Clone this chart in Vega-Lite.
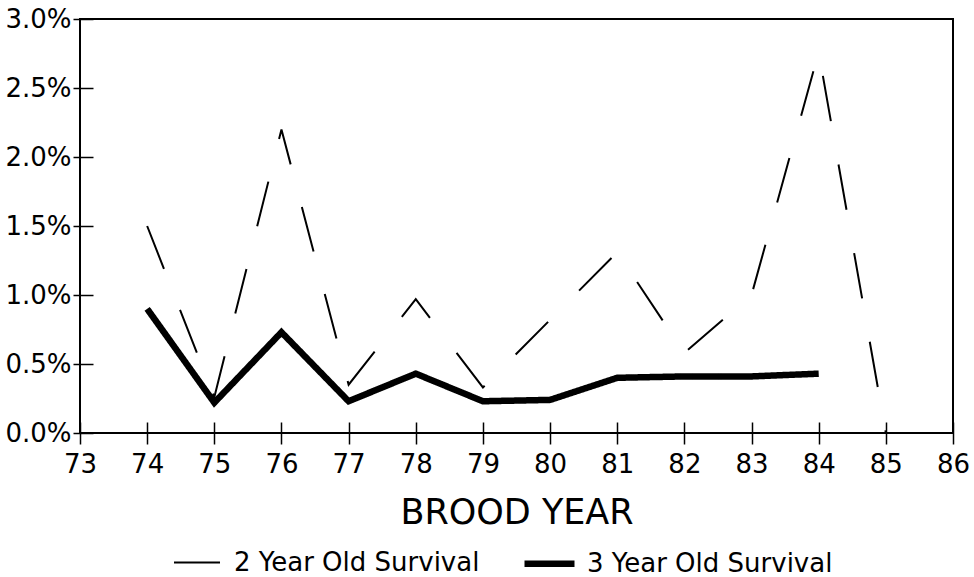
{
  "$schema": "https://vega.github.io/schema/vega-lite/v6.json",
  "width": 873,
  "height": 414,
  "autosize": {"type": "none"},
  "padding": {"left": 80, "top": 19, "right": 21, "bottom": 144},
  "background": "white",
  "config": {
    "view": {"stroke": "black", "strokeWidth": 2},
    "font": "DejaVu Sans"
  },
  "data": {
    "values": [
      {"year": 74, "series": "2 Year Old Survival", "value": 0.0150},
      {"year": 75, "series": "2 Year Old Survival", "value": 0.0026},
      {"year": 76, "series": "2 Year Old Survival", "value": 0.0220},
      {"year": 77, "series": "2 Year Old Survival", "value": 0.0035},
      {"year": 78, "series": "2 Year Old Survival", "value": 0.0097},
      {"year": 79, "series": "2 Year Old Survival", "value": 0.0033},
      {"year": 80, "series": "2 Year Old Survival", "value": 0.0082},
      {"year": 81, "series": "2 Year Old Survival", "value": 0.0131},
      {"year": 82, "series": "2 Year Old Survival", "value": 0.0058},
      {"year": 83, "series": "2 Year Old Survival", "value": 0.0100},
      {"year": 84, "series": "2 Year Old Survival", "value": 0.0276},
      {"year": 85, "series": "2 Year Old Survival", "value": 0.0000},
      {"year": 74, "series": "3 Year Old Survival", "value": 0.0090},
      {"year": 75, "series": "3 Year Old Survival", "value": 0.0022},
      {"year": 76, "series": "3 Year Old Survival", "value": 0.0073},
      {"year": 77, "series": "3 Year Old Survival", "value": 0.0023},
      {"year": 78, "series": "3 Year Old Survival", "value": 0.0043},
      {"year": 79, "series": "3 Year Old Survival", "value": 0.0023},
      {"year": 80, "series": "3 Year Old Survival", "value": 0.0024},
      {"year": 81, "series": "3 Year Old Survival", "value": 0.0040},
      {"year": 82, "series": "3 Year Old Survival", "value": 0.0041},
      {"year": 83, "series": "3 Year Old Survival", "value": 0.0041},
      {"year": 84, "series": "3 Year Old Survival", "value": 0.0043}
    ]
  },
  "mark": {"type": "line", "color": "black", "strokeCap": "butt"},
  "encoding": {
    "x": {
      "field": "year",
      "type": "quantitative",
      "scale": {"domain": [73, 86], "nice": false, "zero": false},
      "axis": {
        "values": [73, 74, 75, 76, 77, 78, 79, 80, 81, 82, 83, 84, 85, 86],
        "format": "d",
        "offset": -11,
        "tickSize": 22,
        "tickWidth": 1.5,
        "tickColor": "black",
        "domain": false,
        "grid": false,
        "labelFlush": false,
        "labelOverlap": false,
        "labelFontSize": 26,
        "labelColor": "black",
        "labelPadding": 7,
        "title": "BROOD YEAR",
        "titleFontSize": 35,
        "titleFontWeight": "normal",
        "titleColor": "black",
        "titlePadding": 18
      }
    },
    "y": {
      "field": "value",
      "type": "quantitative",
      "scale": {"domain": [0, 0.03], "nice": false},
      "axis": {
        "values": [0, 0.005, 0.01, 0.015, 0.02, 0.025, 0.03],
        "format": ".1%",
        "offset": -13,
        "tickSize": 20,
        "tickWidth": 1.5,
        "tickColor": "black",
        "domain": false,
        "grid": false,
        "labelFlush": false,
        "labelOverlap": false,
        "labelFontSize": 26,
        "labelColor": "black",
        "labelPadding": 2,
        "title": null
      }
    },
    "strokeWidth": {
      "field": "series",
      "type": "nominal",
      "scale": {"domain": ["2 Year Old Survival", "3 Year Old Survival"], "range": [2, 6.5]},
      "legend": {
        "orient": "none",
        "legendX": 93,
        "legendY": 516,
        "direction": "horizontal",
        "title": null,
        "symbolType": "stroke",
        "symbolSize": 2500,
        "symbolStrokeColor": "black",
        "labelFontSize": 26,
        "labelColor": "black",
        "labelLimit": 0,
        "labelOffset": 9,
        "columnPadding": 31,
        "encode": {"symbols": {"update": {"strokeDash": {"value": [1, 0]}}}}
      }
    },
    "strokeDash": {
      "field": "series",
      "type": "nominal",
      "scale": {"domain": ["2 Year Old Survival", "3 Year Old Survival"], "range": [[46, 44], [1, 0]]}
    }
  }
}
